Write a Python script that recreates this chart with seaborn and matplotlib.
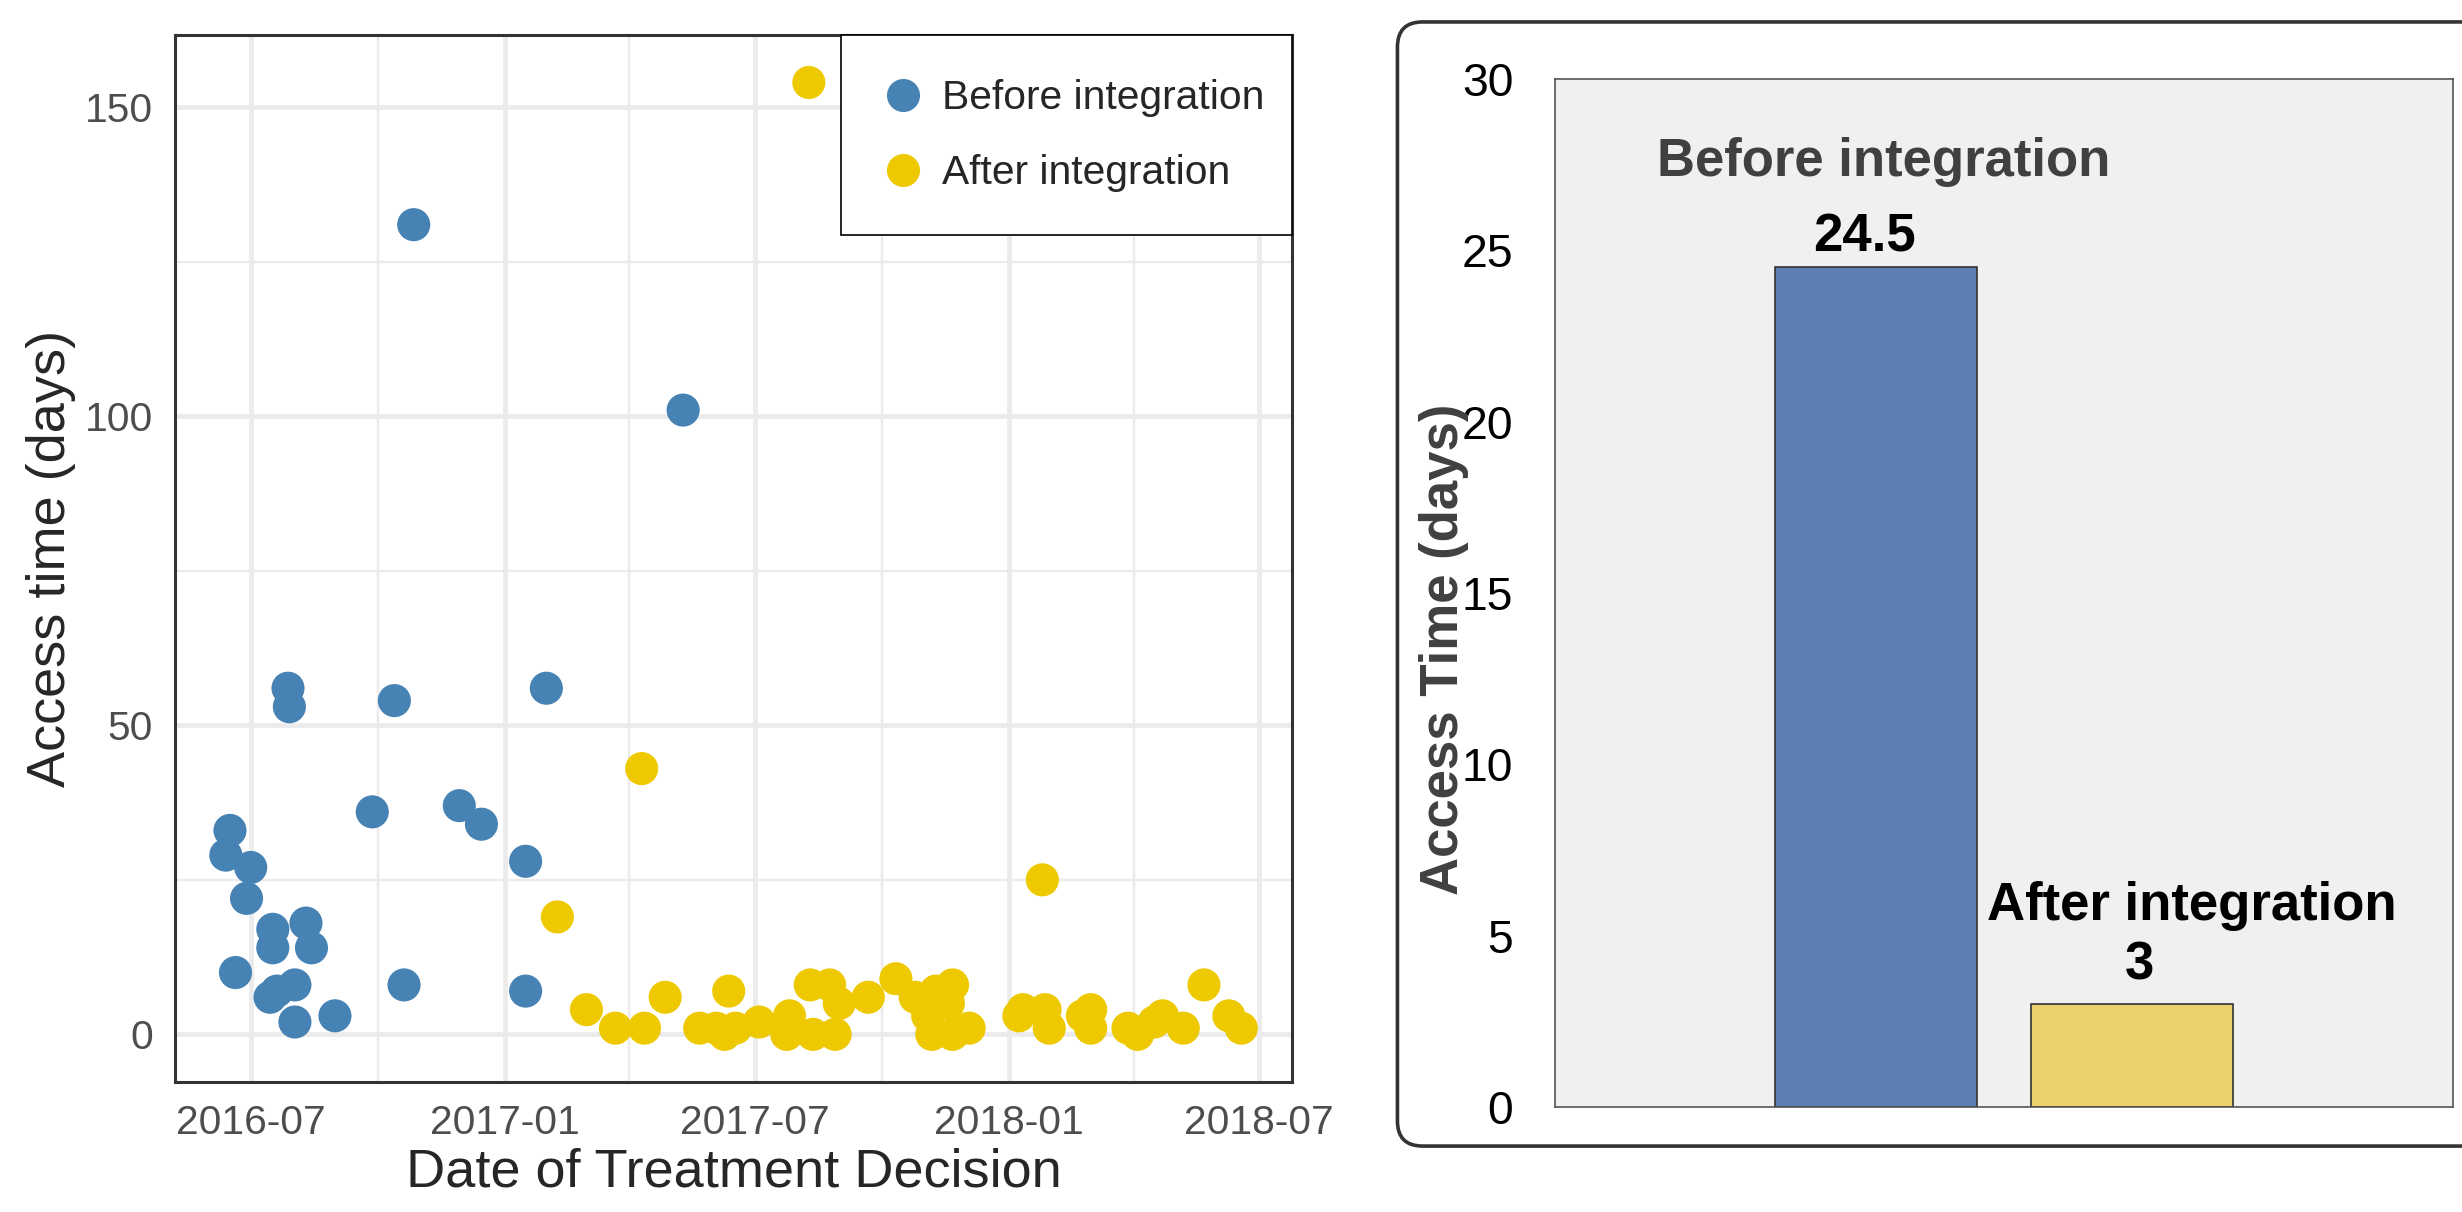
import numpy as np
import pandas as pd
import matplotlib
matplotlib.use("Agg")
import matplotlib.pyplot as plt
import matplotlib.dates as mdates
from matplotlib.lines import Line2D
from matplotlib.patches import FancyBboxPatch, Rectangle
import seaborn as sns

# ---- data: scatter (access time per treatment decision) ----
before_dates = [
    "2016-06-16", "2016-06-13", "2016-07-01", "2016-06-28", "2016-06-20",
    "2016-07-17", "2016-07-17", "2016-08-10", "2016-08-14", "2016-07-15",
    "2016-07-20", "2016-08-02", "2016-08-02", "2016-08-31", "2016-07-28",
    "2016-07-29", "2016-09-27", "2016-10-13", "2016-10-20", "2016-10-27",
    "2016-11-29", "2016-12-15", "2017-01-16", "2017-01-16", "2017-01-31",
    "2017-05-10",
]
before_days = [33, 29, 27, 22, 10, 17, 14, 18, 14, 6, 7, 8, 2, 3, 56,
               53, 36, 54, 8, 131, 37, 34, 28, 7, 56, 101]

after_dates = [
    "2017-08-09", "2017-02-08", "2017-04-10", "2018-01-25", "2017-03-01",
    "2017-03-22", "2017-04-12", "2017-04-27", "2017-05-22", "2017-06-03",
    "2017-06-09", "2017-06-12", "2017-06-17", "2017-07-04", "2017-07-24",
    "2017-07-26", "2017-08-10", "2017-08-12", "2017-08-24", "2017-08-28",
    "2017-08-31", "2017-09-21", "2017-10-11", "2017-10-25", "2017-11-03",
    "2017-11-06", "2017-11-09", "2017-11-21", "2017-11-18", "2017-11-21",
    "2017-12-03", "2018-01-08", "2018-01-11", "2018-01-27", "2018-01-30",
    "2018-02-23", "2018-03-01", "2018-03-01", "2018-03-28", "2018-04-04",
    "2018-04-16", "2018-04-22", "2018-05-07", "2018-05-22", "2018-06-09",
    "2018-06-18",
]
after_days = [154, 19, 43, 25, 4, 1, 1, 6, 1, 1, 0, 7, 1, 2, 0, 3, 8, 0,
              8, 0, 5, 6, 9, 6, 3, 0, 7, 8, 5, 0, 1, 3, 4, 4, 1, 3, 4, 1,
              1, 0, 2, 3, 1, 8, 3, 1]

# ---- data: bar chart (median access time) ----
bar_groups = ["Before integration", "After integration"]
bar_values = [24.5, 3]
bar_labels = ["24.5", "3"]

x_ticks = ["2016-07-01", "2017-01-01", "2017-07-01", "2018-01-01", "2018-07-01"]
x_minor = ["2016-10-01", "2017-04-01", "2017-10-01", "2018-04-01"]

scatter_colors = {"Before integration": "#4682B4", "After integration": "#EEC900"}
bar_colors = {"Before integration": "#5B7FB3", "After integration": "#EBD06B"}

df = pd.DataFrame({
    "date": pd.to_datetime(before_dates + after_dates),
    "days": before_days + after_days,
    "period": ["Before integration"] * len(before_days)
              + ["After integration"] * len(after_days),
})
df_bar = pd.DataFrame({"period": bar_groups, "days": bar_values})

sns.set_style("white")
plt.rcParams["font.family"] = ["Liberation Sans", "DejaVu Sans"]

fig = plt.figure(figsize=(12.31, 6.06), dpi=200)

# ---------------- left: scatter ----------------
ax1 = fig.add_axes([0.0711, 0.1073, 0.4537, 0.8639])
sns.scatterplot(data=df, x="date", y="days", hue="period",
                palette=scatter_colors, s=142, linewidth=0, alpha=1,
                legend=False, ax=ax1, zorder=3)

# ggplot-like 5% expansion
dmin, dmax = mdates.date2num(df["date"].min()), mdates.date2num(df["date"].max())
span = dmax - dmin
ax1.set_xlim(dmin - 0.05 * span, dmax + 0.05 * span)
ymin, ymax = df["days"].min(), df["days"].max()
ax1.set_ylim(ymin - 0.05 * (ymax - ymin), ymax + 0.05 * (ymax - ymin))

ax1.set_xticks(mdates.date2num(pd.to_datetime(x_ticks)))
ax1.set_xticks(mdates.date2num(pd.to_datetime(x_minor)), minor=True)
ax1.xaxis.set_major_formatter(mdates.DateFormatter("%Y-%m"))
ax1.set_yticks([0, 50, 100, 150])
ax1.set_yticks([25, 75, 125], minor=True)

ax1.grid(which="major", color="#EBEBEB", lw=1.7)
ax1.grid(which="minor", color="#EBEBEB", lw=0.85)
ax1.set_axisbelow(True)
ax1.tick_params(which="major", length=4, width=1.3, color="#333333",
                labelsize=14.7, labelcolor="#4D4D4D", pad=4)
ax1.tick_params(which="minor", length=0)
for sp in ax1.spines.values():
    sp.set_color("#333333")
    sp.set_linewidth(1.1)

ax1.set_xlabel("Date of Treatment Decision", fontsize=19.5, labelpad=2)
ax1.set_ylabel("Access time (days)", fontsize=19.5, labelpad=3)

# legend: box drawn as a rectangle, entries without frame
ax1.add_patch(Rectangle((0.596, 0.809), 0.404, 0.191, transform=ax1.transAxes,
                        facecolor="white", edgecolor="black", lw=0.6,
                        zorder=4, clip_on=False))
handles = [Line2D([], [], marker="o", ls="", markersize=11.9,
                  markerfacecolor=scatter_colors[g], markeredgewidth=0)
           for g in bar_groups]
leg = ax1.legend(handles, bar_groups, loc="center left",
                 bbox_to_anchor=(0.6333, 0.9037), fontsize=14.7,
                 frameon=False, borderaxespad=0, borderpad=0,
                 handlelength=1.0, handletextpad=0.46, labelspacing=0.9)
leg.set_zorder(5)

# ---------------- right: bar chart ----------------
frame = FancyBboxPatch((0.5676, 0.0544), 0.45, 0.9275,
                       boxstyle="round,pad=0,rounding_size=0.0102",
                       mutation_aspect=2462 / 1212, transform=fig.transFigure,
                       facecolor="none", edgecolor="#333333", lw=1.3)
fig.patches.append(frame)

ax2 = fig.add_axes([0.6316, 0.0868, 0.3646, 0.8480])
sns.barplot(data=df_bar, x="period", y="days", hue="period", order=bar_groups,
            palette=bar_colors, saturation=1, edgecolor="#333333",
            linewidth=0.6, width=0.788, legend=False, ax=ax2)
ax2.set_facecolor("#F0F0F0")
ax2.set_xlim(-1.252, 2.253)
ax2.set_ylim(0, 30)
ax2.set_yticks(range(0, 31, 5))
ax2.set_xticks([])
ax2.set_xlabel("")
ax2.tick_params(axis="y", length=0, labelsize=16.7, labelcolor="black", pad=15)
for sp in ax2.spines.values():
    sp.set_color("#555555")
    sp.set_linewidth(0.6)
ax2.set_ylabel("Access Time (days)", fontsize=19, fontweight="bold",
               color="#404040")
ax2.yaxis.set_label_coords(-0.0956, 0.445)

name_dx = [0.032, 0.233]
name_dy = [2.66, 2.45]
name_colors = ["#404040", "black"]
value_dx = [-0.044, 0.03]
value_dy = [0.46, 0.71]
for i, (g, v, lab) in enumerate(zip(bar_groups, bar_values, bar_labels)):
    ax2.text(i + name_dx[i], v + name_dy[i], g, ha="center", va="baseline",
             fontsize=19, fontweight="bold", color=name_colors[i])
    ax2.text(i + value_dx[i], v + value_dy[i], lab, ha="center",
             va="baseline", fontsize=19, fontweight="bold", color="black")

fig.savefig("out.png", dpi=200)
